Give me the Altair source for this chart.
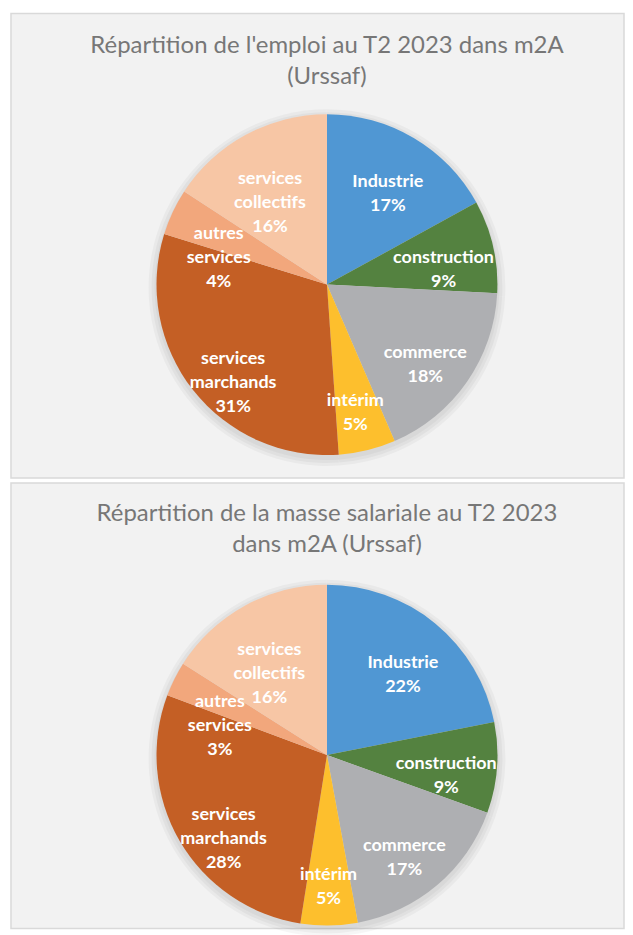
import altair as alt
import pandas as pd

categories = ["Industrie", "construction", "commerce", "intérim",
              "services marchands", "autres services", "services collectifs"]
label_lines = ["Industrie", "construction", "commerce", "intérim",
               "services\nmarchands", "autres\nservices", "services\ncollectifs"]
emploi = [17.0, 8.8, 17.7, 5.4, 30.9, 4.4, 15.8]
masse = [21.9, 8.6, 16.6, 5.4, 28.2, 3.3, 16.0]
colors = ["#5097D3", "#548240", "#AEAFB2", "#FDBF2D",
          "#C45F25", "#F2A77C", "#F7C6A5"]
titles = ["Répartition de l'emploi au T2 2023 dans m2A\n(Urssaf)",
          "Répartition de la masse salariale au T2 2023\ndans m2A (Urssaf)"]

W = 615
CX = 317
R = 171
FONT = "Lato"


def panel(values, title, height, cy, ty):
    df = pd.DataFrame({
        "cat": categories,
        "value": values,
        "idx": list(range(len(categories))),
        "label": [f"{l}\n{round(v)}%" for l, v in zip(label_lines, values)],
    })
    base = alt.Chart(df).encode(
        theta=alt.Theta("value:Q", stack=True),
        order=alt.Order("idx:Q"),
        x=alt.value(CX),
        y=alt.value(cy),
    )
    shadows = [
        alt.Chart(df).mark_arc(radius=R + k, color="#000000", opacity=0.035).encode(
            theta=alt.Theta("value:Q", stack=True),
            order=alt.Order("idx:Q"),
            x=alt.value(CX),
            y=alt.value(cy + 3),
        )
        for k in (2, 5, 8)
    ]
    pie = base.mark_arc(radius=R).encode(
        color=alt.Color("cat:N", scale=alt.Scale(domain=categories, range=colors), legend=None)
    )
    labels = base.mark_text(
        radius=120, font=FONT, fontWeight="bold", fontSize=18, color="white",
        lineBreak="\n", lineHeight=24, align="center", baseline="middle",
    ).encode(text="label:N")
    ttl = alt.Chart(pd.DataFrame({"t": [title]})).mark_text(
        font=FONT, fontSize=24, color="#777777", lineBreak="\n", lineHeight=31,
        align="center", baseline="alphabetic",
    ).encode(text="t:N", x=alt.value(CX), y=alt.value(ty))
    return alt.layer(*shadows, pie, labels, ttl).properties(width=W, height=height)


p1 = panel(emploi, titles[0], 466, 272, 40)
p2 = panel(masse, titles[1], 447, 273, 38)

chart = alt.vconcat(p1, p2, spacing=3).properties(
    padding={"left": 2, "top": 3, "right": 0, "bottom": 0},
    background="white",
).configure_view(fill="#F2F2F2", stroke="#D9D9D9", strokeWidth=1.5)

chart.save("out.html", embed_options={"renderer": "svg", "actions": False})
